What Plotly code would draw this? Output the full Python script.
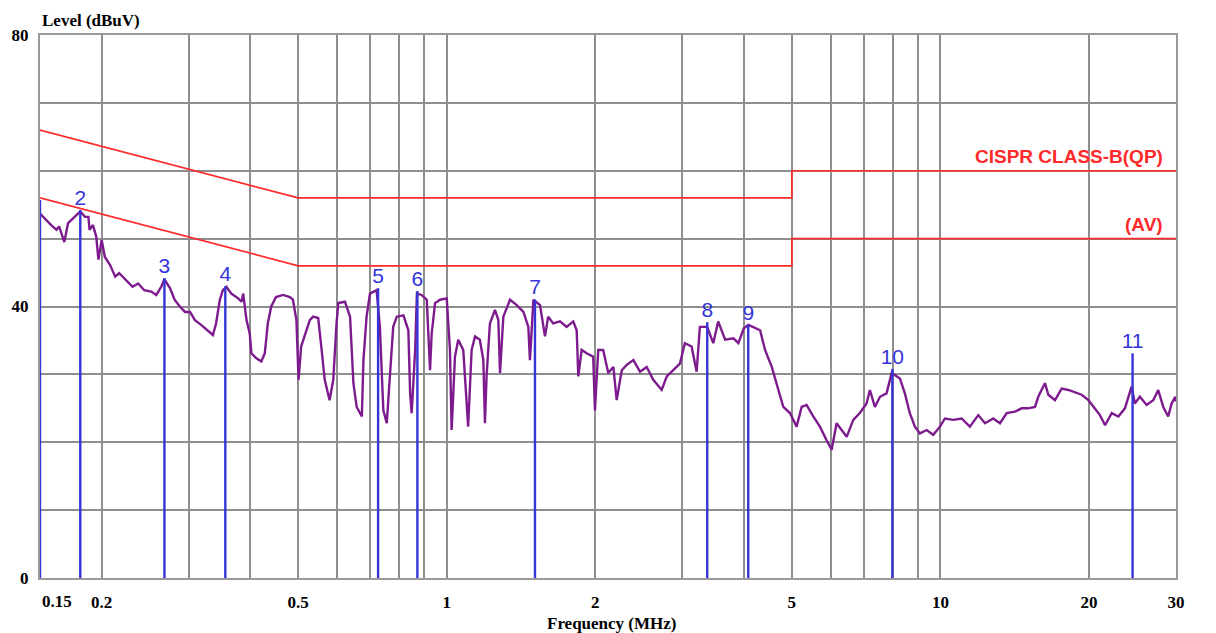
import math
import plotly.graph_objects as go

# ---------------- data ----------------
trace_freq = [
    0.150, 0.153, 0.158, 0.162, 0.164, 0.168, 0.171, 0.175, 0.181, 0.185, 0.188, 0.189, 0.192, 0.195, 0.197,
    0.200, 0.203, 0.208, 0.213, 0.217, 0.224, 0.231, 0.237, 0.244, 0.252, 0.258, 0.264, 0.268, 0.275, 0.281,
    0.288, 0.295, 0.302, 0.309, 0.318, 0.328, 0.336, 0.341, 0.347, 0.352, 0.358, 0.366, 0.378, 0.384, 0.387,
    0.393, 0.399, 0.402, 0.411, 0.421, 0.428, 0.434, 0.441, 0.451, 0.466, 0.481, 0.488, 0.496, 0.501, 0.507,
    0.515, 0.528, 0.536, 0.549, 0.557, 0.566, 0.579, 0.589, 0.598,
    0.603, 0.622, 0.637, 0.647, 0.657, 0.673, 0.678, 0.688, 0.699, 0.721, 0.732, 0.744, 0.756, 0.767, 0.779,
    0.792, 0.817, 0.836, 0.843, 0.849, 0.863, 0.870, 0.889, 0.911, 0.925, 0.932, 0.947, 0.969, 1.000, 1.015,
    1.023, 1.039, 1.055, 1.080, 1.097, 1.105, 1.123, 1.141, 1.167, 1.186, 1.195, 1.204, 1.223, 1.252, 1.272,
    1.282, 1.302, 1.343, 1.386, 1.430, 1.463, 1.474, 1.498, 1.545, 1.581, 1.605, 1.643, 1.696, 1.749, 1.804,
    1.833, 1.847, 1.876, 1.920, 1.980, 1.996, 2.027, 2.074, 2.124, 2.175, 2.209, 2.262, 2.315,
    2.388, 2.463, 2.541, 2.620, 2.725, 2.790, 2.877, 2.967, 3.036, 3.133, 3.207, 3.256, 3.369, 3.466, 3.546,
    3.664, 3.809, 3.896, 3.997, 4.083, 4.312, 4.413, 4.553, 4.683, 4.805, 4.956, 5.113, 5.234, 5.356, 5.525,
    5.700, 5.880, 6.021, 6.160, 6.307, 6.458, 6.659, 6.867, 7.085, 7.195, 7.366, 7.542, 7.777, 7.965, 8.278,
    8.471, 8.669, 8.877,
    9.087, 9.377, 9.670, 9.977, 10.21, 10.62, 11.04, 11.47, 11.93, 12.31, 12.79, 13.20, 13.62, 14.16, 14.61,
    15.05, 15.54, 15.78, 16.28, 16.54, 17.06, 17.60, 18.16, 18.73, 19.32, 19.94, 20.40, 21.04, 21.55, 22.23,
    22.93, 23.64, 24.39, 24.76, 25.35, 26.16, 26.98, 27.61, 28.27, 28.93, 29.39, 29.90, 30.0,
]
trace_level = [
    53.7, 53.0, 52.0, 51.3, 51.8, 49.5, 52.3, 53.0, 54.0, 53.2, 53.2, 51.3, 52.0, 50.3, 46.9,
    49.8, 47.3, 46.1, 44.4, 44.9, 43.9, 42.9, 43.4, 42.4, 42.2, 41.7, 42.9, 44.0, 42.7, 41.0,
    40.0, 39.2, 39.2, 38.0, 37.3, 36.5, 35.8, 37.5, 41.0, 42.4, 42.9, 41.9, 41.2, 40.7, 41.9,
    38.0, 36.0, 33.1, 32.4, 31.9, 33.1, 37.5, 40.0, 41.4, 41.7, 41.4, 41.0, 38.0, 29.2, 34.1,
    35.6, 38.0, 38.5, 38.3, 34.1, 29.2, 26.2, 29.2, 37.5,
    40.5, 40.7, 38.5, 28.7, 25.2, 23.8, 32.1, 38.5, 41.9, 42.4, 37.0, 24.7, 22.8, 29.7, 37.0,
    38.5, 38.7, 36.5, 27.2, 24.3, 33.6, 41.9, 41.7, 41.0, 30.6, 36.0, 40.5, 41.0, 41.2, 33.6,
    21.8, 32.6, 35.1, 33.6, 26.2, 22.3, 33.6, 35.6, 35.1, 32.1, 22.8, 29.7, 37.5, 39.5, 38.0,
    30.2, 38.5, 41.0, 40.2, 39.2, 37.0, 32.1, 41.0, 40.2, 35.6, 38.5, 37.5, 37.8, 37.0, 37.8,
    36.5, 29.7, 33.6, 33.1, 32.6, 24.7, 33.6, 33.6, 30.2, 31.1, 26.2, 30.6, 31.4,
    32.1, 30.4, 31.1, 29.2, 27.7, 29.7, 30.6, 31.6, 34.6, 34.1, 30.4, 37.0, 37.0, 34.6, 37.8,
    35.1, 35.3, 34.6, 36.8, 37.3, 36.5, 33.6, 31.1, 28.2, 25.2, 24.3, 22.3, 25.2, 25.5, 23.8,
    22.3, 20.3, 18.9, 22.8, 21.8, 20.8, 23.3, 24.3, 25.7, 27.7, 25.2, 26.7, 27.2, 30.2, 29.4,
    27.2, 24.3, 22.3,
    21.3, 21.8, 21.1, 22.3, 23.5, 23.3, 23.5, 22.3, 24.0, 22.8, 23.5, 22.8, 24.3, 24.5, 25.0,
    25.0, 25.2, 26.7, 28.7, 27.0, 26.2, 27.9, 27.7, 27.4, 27.0, 26.2, 25.2, 24.0, 22.5, 24.3,
    23.8, 25.0, 28.2, 25.7, 26.7, 25.5, 26.2, 27.7, 25.2, 23.8, 25.7, 26.7, 26.0,
]

# CISPR 22 class B limits
qp_freq = [0.15, 0.5, 5.0, 5.0, 30.0]
qp_level = [66.0, 56.0, 56.0, 60.0, 60.0]
av_freq = [0.15, 0.5, 5.0, 5.0, 30.0]
av_level = [56.0, 46.0, 46.0, 50.0, 50.0]

# peak markers
marker_id = ["1", "2", "3", "4", "5", "6", "7", "8", "9", "10", "11"]
marker_freq = [0.150, 0.181, 0.268, 0.356, 0.726, 0.872, 1.509, 3.37, 4.08, 7.99, 24.5]
marker_level = [55.7, 54.2, 44.2, 43.0, 42.7, 42.3, 41.0, 37.7, 37.3, 30.8, 33.1]
marker_shown = [False, True, True, True, True, True, True, True, True, True, True]

x_tick_vals = [0.2, 0.5, 1, 2, 5, 10, 20, 30]
x_tick_text = ["0.2", "0.5", "1", "2", "5", "10", "20", "30"]
x_grid_vals = [0.3, 0.4, 0.6, 0.7, 0.8, 0.9, 3, 4, 6, 7, 8, 9]
y_tick_vals = [0, 40, 80]

# ---------------- figure ----------------
RED = "#ff2a2a"
BLUE = "#3434d8"
PURPLE = "#7d1b8e"
GRID = "#8e8e8e"
SERIF = "Liberation Serif, Times New Roman, serif"
SANS = "Liberation Sans, Arial, sans-serif"

fig = go.Figure()

fig.add_trace(go.Scatter(x=qp_freq, y=qp_level, mode="lines",
                         line=dict(color=RED, width=1.7), hoverinfo="skip"))
fig.add_trace(go.Scatter(x=av_freq, y=av_level, mode="lines",
                         line=dict(color=RED, width=1.7), hoverinfo="skip"))

fig.add_trace(go.Scatter(x=trace_freq, y=trace_level, mode="lines",
                         line=dict(color=PURPLE, width=2.4), hoverinfo="skip"))

mx, my = [], []
for f, v in zip(marker_freq, marker_level):
    mx += [f, f, None]
    my += [0, v, None]
fig.add_trace(go.Scatter(x=mx, y=my, mode="lines",
                         line=dict(color=BLUE, width=2.4), hoverinfo="skip"))

lab_x = [f for f, s in zip(marker_freq, marker_shown) if s]
lab_y = [v for v, s in zip(marker_level, marker_shown) if s]
lab_t = [t for t, s in zip(marker_id, marker_shown) if s]
fig.add_trace(go.Scatter(x=lab_x, y=lab_y, mode="text", text=lab_t,
                         textposition="top center",
                         textfont=dict(family=SANS, size=21, color=BLUE),
                         hoverinfo="skip"))

# the page body has an 8px margin, so the figure is sized/offset for it
fig.update_layout(
    width=1208, height=625,
    margin=dict(l=32, r=40, t=27, b=55),
    paper_bgcolor="white", plot_bgcolor="white",
    showlegend=False,
    xaxis=dict(
        type="log", automargin=False,
        range=[math.log10(0.15), math.log10(30)],
        tickmode="array", tickvals=x_tick_vals, ticktext=x_tick_text,
        showgrid=True, gridcolor=GRID, gridwidth=1.5,
        minor=dict(tickmode="array", tickvals=x_grid_vals, showgrid=True,
                   gridcolor=GRID, gridwidth=1.5, ticks=""),
        showline=True, linecolor="#9a9a9a", linewidth=2, mirror=True,
        ticks="", ticklabelstandoff=8,
        tickfont=dict(family=SERIF, size=17, color="black", weight="bold"),
        zeroline=False, fixedrange=True,
    ),
    yaxis=dict(
        automargin=False,
        range=[0, 80],
        tickmode="array", tickvals=y_tick_vals,
        showgrid=True, gridcolor=GRID, gridwidth=1.5,
        minor=dict(dtick=10, showgrid=True, gridcolor=GRID, gridwidth=1.5, ticks=""),
        showline=True, linecolor="#9a9a9a", linewidth=2, mirror=True,
        ticks="", ticklabelstandoff=6,
        tickfont=dict(family=SERIF, size=17, color="black", weight="bold"),
        zeroline=False, fixedrange=True,
    ),
    annotations=[
        dict(text="Level (dBuV)", xref="paper", yref="paper", x=0, y=1,
             xanchor="left", yanchor="bottom", yshift=3, showarrow=False,
             font=dict(family=SERIF, size=17, color="black", weight="bold")),
        dict(text="Frequency (MHz)", xref="paper", yref="paper", x=0.5035, y=0,
             xanchor="center", yanchor="top", yshift=-34, showarrow=False,
             font=dict(family=SERIF, size=17, color="black", weight="bold")),
        dict(text="0.15", xref="paper", yref="paper", x=0, y=0,
             xanchor="left", yanchor="top", yshift=-12, showarrow=False,
             font=dict(family=SERIF, size=17, color="black", weight="bold")),
        dict(text="CISPR CLASS-B(QP)", xref="paper", yref="y", x=0.9905, y=60,
             xanchor="right", yanchor="bottom", yshift=2, showarrow=False,
             font=dict(family=SANS, size=19, color=RED, weight="bold")),
        dict(text="(AV)", xref="paper", yref="y", x=0.9905, y=50,
             xanchor="right", yanchor="bottom", yshift=2, showarrow=False,
             font=dict(family=SANS, size=19, color=RED, weight="bold")),
    ],
)

fig.write_html("out.html")
